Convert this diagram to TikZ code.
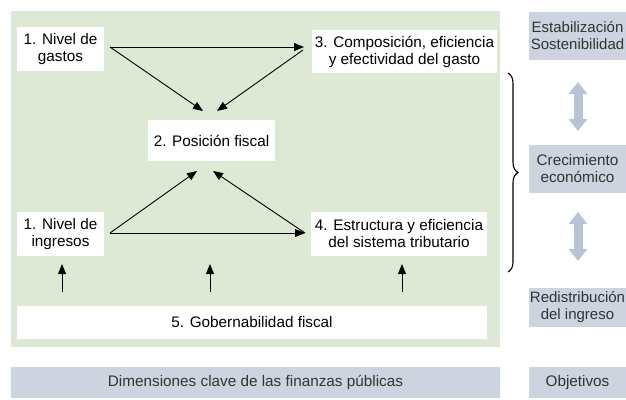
\documentclass[tikz,border=0pt]{standalone}
\usepackage{fontspec}
\setmainfont{Liberation Sans}
\usetikzlibrary{arrows.meta,decorations.pathreplacing}
\definecolor{panelgreen}{HTML}{DDE9D5}
\definecolor{objblue}{HTML}{CDD4E0}
\definecolor{dblarrow}{HTML}{B8C4D6}
\definecolor{objtext}{HTML}{333333}
\newcommand{\dfont}{\fontsize{15.3}{17}\selectfont}
\newcommand{\ofont}{\fontsize{15}{17}\selectfont}
\tikzset{
  wbox/.style={fill=white, align=center, font=\dfont, inner sep=0pt},
  obox/.style={fill=objblue, align=center, font=\dfont, text=objtext, inner sep=0pt},
  conn/.style={line width=0.9pt, -{Triangle[length=10pt,width=8pt]}},
  dbl/.style={draw=dblarrow, line width=9pt, {Triangle[length=12pt,width=18pt]}-{Triangle[length=12pt,width=18pt]}}
}
\begin{document}
\begin{tikzpicture}[x=1pt,y=-1pt]
\useasboundingbox (0,0) rectangle (626,399);
% panel
\node[fill=panelgreen, minimum width=489pt, minimum height=336pt, inner sep=0pt] (panel) at (255.5,179) {};
% boxes
\node[wbox, minimum width=87pt, minimum height=44pt] (g1) at (60.5,49) {1. Nivel de\\gastos};
\node[wbox, minimum width=185pt, minimum height=43pt] (c3) at (404.5,51.5) {3. Composición, eficiencia\\y efectividad del gasto};
\node[wbox, minimum width=127pt, minimum height=41pt] (p2) at (211.5,140.5) {2. Posición fiscal};
\node[wbox, minimum width=87pt, minimum height=44pt] (i1) at (60.5,234) {1. Nivel de\\ingresos};
\node[wbox, minimum width=176pt, minimum height=44pt] (e4) at (399,234) {4. Estructura y eficiencia\\del sistema tributario};
\node[wbox, minimum width=470pt, minimum height=33pt] (g5) at (252,322.5) {5. Gobernabilidad fiscal};
% connector end points
\coordinate (gR) at (110,47);
\coordinate (cL) at (304,47);
\coordinate (cL2) at (303,50);
\coordinate (pTL) at (203,111);
\coordinate (pTR) at (217,111);
\coordinate (iR) at (110,233);
\coordinate (eL) at (305,233);
\coordinate (pBL) at (197,171);
\coordinate (pBR) at (213,171);
\draw[conn] (gR) -- (cL);
\draw[conn] (gR) -- (pTL);
\draw[conn] (cL2) -- (pTR);
\draw[conn] (iR) -- (eL);
\draw[conn] (iR) -- (pBL);
\draw[conn] (eL) -- (pBR);
% vertical arrows
\coordinate (v1s) at (62,292); \coordinate (v1e) at (62,264);
\coordinate (v2s) at (210,292); \coordinate (v2e) at (210,264);
\coordinate (v3s) at (402,292); \coordinate (v3e) at (402,264);
\draw[conn] (v1s) -- (v1e);
\draw[conn] (v2s) -- (v2e);
\draw[conn] (v3s) -- (v3e);
% bottom bars
\node[obox, minimum width=489pt, minimum height=31pt] (dim) at (255.5,382.5) {Dimensiones clave de las finanzas públicas};
\node[obox, minimum width=97pt, minimum height=31pt] (obj) at (577.5,382.5) {Objetivos};
% objectives
\node[obox, font=\ofont, minimum width=97pt, minimum height=48pt] (est) at (577.5,36) {Estabilización\\Sostenibilidad};
\node[obox, minimum width=97pt, minimum height=48pt] (cre) at (577.5,169) {Crecimiento\\económico};
\node[obox, font=\ofont, minimum width=97pt, minimum height=39pt] (red) at (577.5,307.5) {Redistribución\\del ingreso};
\coordinate (d1a) at (578,82); \coordinate (d1b) at (578,131);
\coordinate (d2a) at (578,212); \coordinate (d2b) at (578,261);
\draw[dbl] (d1a) -- (d1b);
\draw[dbl] (d2a) -- (d2b);
% brace
\coordinate (bt) at (508,73); \coordinate (bb) at (508,272);
\draw[line width=1.1pt, decorate, decoration={brace, amplitude=10pt}] (bt) -- (bb);
\end{tikzpicture}
\end{document}
